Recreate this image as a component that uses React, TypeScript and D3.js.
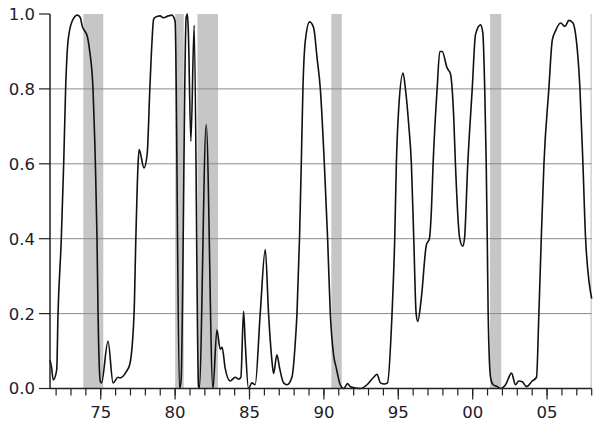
import React from "react";
import * as d3 from "d3";

const years: number[] = [
  1971.59, 1971.7, 1971.81, 1972.04, 1972.13, 1972.35, 1972.51, 1972.64, 1972.8, 1973.07,
  1973.43, 1973.63, 1973.76, 1973.92, 1974.1, 1974.26, 1974.48, 1974.6, 1974.64, 1974.75,
  1974.82, 1974.97, 1975.05, 1975.49, 1975.83, 1976.16, 1976.3, 1976.72, 1976.95, 1977.24,
  1977.36, 1977.51, 1977.58, 1977.91, 1978.12, 1978.3, 1978.45, 1978.55, 1978.65, 1978.99,
  1979.21, 1979.55, 1979.78, 1980.0, 1980.29, 1980.4, 1980.74, 1980.83, 1980.89, 1981.06,
  1981.28, 1981.57, 1981.62, 1982.09, 1982.54, 1982.81, 1983.03, 1983.16, 1983.36, 1983.7,
  1984.04, 1984.26, 1984.42, 1984.6, 1984.71, 1984.93, 1985.16, 1985.38, 1985.72, 1986.06,
  1986.28, 1986.51, 1986.62, 1986.84, 1987.02, 1987.29, 1987.52, 1987.85, 1988.08, 1988.19,
  1988.36, 1988.48, 1988.59, 1988.75, 1989.04, 1989.31, 1989.54, 1989.76, 1990.03, 1990.25,
  1990.43, 1990.65, 1990.83, 1991.1, 1991.33, 1991.59, 1991.78, 1992.45, 1992.9, 1993.34,
  1993.57, 1993.8, 1994.06, 1994.27, 1994.58, 1994.76, 1994.87, 1995.03, 1995.32, 1995.48,
  1995.7, 1995.88, 1996.04, 1996.2, 1996.31, 1996.55, 1996.89, 1997.09, 1997.23, 1997.34,
  1997.61, 1997.79, 1997.95, 1998.28, 1998.51, 1998.62, 1998.73, 1998.84, 1999.13, 1999.33,
  1999.45, 1999.67, 1999.97, 2000.19, 2000.53, 2000.68, 2000.81, 2000.91, 2000.98, 2001.04,
  2001.2, 2001.38, 2001.65, 2001.87, 2002.21, 2002.61, 2002.88, 2003.1, 2003.33, 2003.62,
  2004.0, 2004.29, 2004.45, 2004.61, 2004.79, 2005.12, 2005.35, 2005.57, 2005.91, 2006.2,
  2006.47, 2006.74, 2006.92, 2007.21, 2007.41, 2007.59, 2008.0,
];

const probs: number[] = [
  0.076, 0.055, 0.023, 0.05, 0.2, 0.4, 0.6, 0.8, 0.927, 0.98,
  0.997, 0.99, 0.967, 0.955, 0.94, 0.9, 0.8, 0.66, 0.6, 0.4,
  0.2, 0.019, 0.015, 0.126, 0.015, 0.03, 0.028, 0.045, 0.064, 0.2,
  0.4, 0.6, 0.638, 0.589, 0.625, 0.8, 0.93, 0.985, 0.991, 0.995,
  0.99, 0.995, 0.997, 0.98, 0.0, 0.02, 0.99, 1.0, 0.95, 0.66,
  0.97, 0.01, 0.0, 0.705, 0.0, 0.157, 0.105, 0.11, 0.055, 0.02,
  0.03, 0.025, 0.03, 0.206, 0.125, 0.0, 0.015, 0.01, 0.2, 0.371,
  0.2, 0.073, 0.04, 0.09, 0.055, 0.015, 0.01, 0.03, 0.125, 0.2,
  0.4, 0.6, 0.8, 0.928, 0.979, 0.963, 0.883, 0.8, 0.6, 0.4,
  0.2, 0.09, 0.055, 0.01, 0.0, 0.013, 0.005, 0.0, 0.01, 0.03,
  0.038, 0.015, 0.012, 0.015, 0.2, 0.4, 0.6, 0.749, 0.842, 0.8,
  0.705, 0.6, 0.4, 0.2, 0.179, 0.242, 0.384, 0.4, 0.48, 0.6,
  0.8, 0.9, 0.9, 0.856, 0.84, 0.8, 0.72, 0.6, 0.4, 0.38,
  0.4, 0.6, 0.8, 0.945, 0.971, 0.95, 0.8, 0.6, 0.4, 0.2,
  0.03, 0.01, 0.005, 0.0, 0.01, 0.041, 0.01, 0.02, 0.018, 0.005,
  0.02, 0.03, 0.2, 0.4, 0.6, 0.8, 0.93, 0.955, 0.976, 0.967,
  0.983, 0.976, 0.945, 0.8, 0.6, 0.4, 0.24,
];

const recessionStarts: number[] = [1973.83, 1980.0, 1981.5, 1990.5, 2001.17, 2007.92];
const recessionEnds: number[] = [1975.17, 1980.58, 1982.88, 1991.2, 2001.92, 2008.0];

const yTicks: number[] = [0, 0.2, 0.4, 0.6, 0.8, 1.0];
const gridValues: number[] = [0.2, 0.4, 0.6, 0.8];
const xMajorTicks: number[] = [1975, 1980, 1985, 1990, 1995, 2000, 2005];
const xMajorLabels: string[] = ["75", "80", "85", "90", "95", "00", "05"];
const xMinorTicks: number[] = d3.range(1972, 2009);

export default function App() {
  const x = d3.scaleLinear().domain([1971.59, 2008.0]).range([50, 591.7]);
  const y = d3.scaleLinear().domain([0, 1]).range([388.5, 14]);
  const pts: [number, number][] = years.map((yr, i) => [yr, probs[i]]);
  const line = d3
    .line<[number, number]>()
    .x((d) => x(d[0]))
    .y((d) => y(d[1]))
    .curve(d3.curveMonotoneX);
  const font = "'DejaVu Sans', Verdana, sans-serif";
  const x0 = x.range()[0];
  const x1 = x.range()[1];
  return (
    <svg
      width={600}
      height={425}
      style={{ position: "absolute", left: 0, top: 0, background: "#fff" }}
    >
      {recessionStarts.map((s, i) => (
        <rect
          key={"r" + i}
          x={x(s)}
          y={y(1)}
          width={x(recessionEnds[i]) - x(s)}
          height={y(0) - y(1)}
          fill="#c6c6c6"
        />
      ))}
      {gridValues.map((g) => (
        <line key={"g" + g} x1={x0} x2={x1} y1={y(g)} y2={y(g)} stroke="#8a8a8a" strokeWidth={1} />
      ))}
      <path d={line(pts) || ""} fill="none" stroke="#111" strokeWidth={1.6} strokeLinejoin="round" />
      <line x1={x0} x2={x0} y1={y(1)} y2={y(0)} stroke="#222" strokeWidth={1.5} />
      <line x1={x0} x2={x1} y1={y(0)} y2={y(0)} stroke="#222" strokeWidth={1.5} />
      {yTicks.map((t) => (
        <g key={"yt" + t}>
          <line x1={39} x2={x0} y1={y(t)} y2={y(t)} stroke="#222" strokeWidth={1.2} />
          <text
            x={35}
            y={y(t)}
            dy="0.36em"
            textAnchor="end"
            fontFamily={font}
            fontSize={16.5}
            fill="#1c1c2c"
          >
            {t.toFixed(1)}
          </text>
        </g>
      ))}
      {xMinorTicks.map((t) => (
        <line key={"xm" + t} x1={x(t)} x2={x(t)} y1={y(0)} y2={y(0) + 7} stroke="#222" strokeWidth={1.2} />
      ))}
      {xMajorTicks.map((t, i) => (
        <g key={"xt" + t}>
          <line x1={x(t)} x2={x(t)} y1={y(0)} y2={y(0) + 11} stroke="#222" strokeWidth={1.2} />
          <text
            x={x(t)}
            y={418}
            textAnchor="middle"
            fontFamily={font}
            fontSize={16.5}
            fill="#1c1c2c"
          >
            {xMajorLabels[i]}
          </text>
        </g>
      ))}
    </svg>
  );
}
